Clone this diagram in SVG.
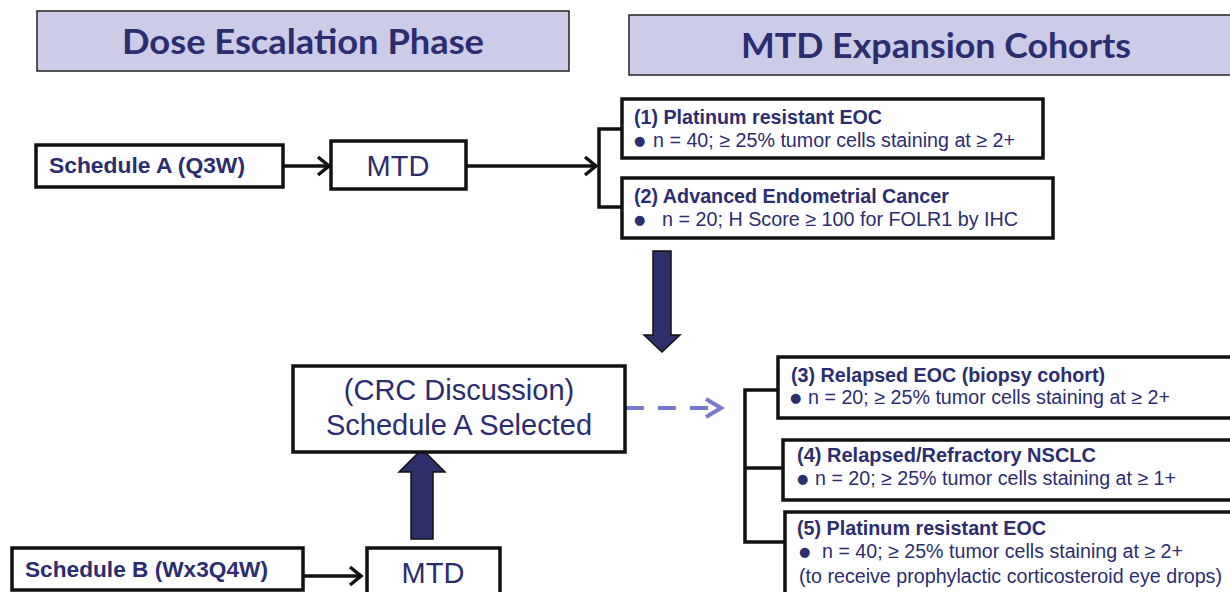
<svg xmlns="http://www.w3.org/2000/svg" width="1230" height="592" viewBox="0 0 1230 592">
<defs>
<style>
.hdr{fill:#ccccE8;stroke:#222;stroke-width:1.5}
.htxt{font-family:Lato,"Open Sans",sans-serif;font-weight:700;font-size:34px;fill:#2b2d6e;text-anchor:middle}
.box{fill:#fff;stroke:#111;stroke-width:3.5}
.b{font-family:"Liberation Sans",Arial,sans-serif;font-weight:700;fill:#2b2d6e}
.r{font-family:"Liberation Sans",Arial,sans-serif;fill:#2b2d6e}
.big{font-size:29px;text-anchor:middle}
.t{font-size:19.5px}
.dot{font-family:"DejaVu Sans",sans-serif;font-size:13px}
.ln{fill:none;stroke:#111;stroke-width:3.5}
.fat{fill:#2e2e6b;stroke:#111;stroke-width:1.5}
</style>
<marker id="chev" markerUnits="userSpaceOnUse" markerWidth="18" markerHeight="22" refX="13" refY="11" orient="auto">
<path d="M2,2 L13,11 L2,20" fill="none" stroke="#111" stroke-width="3.5"/>
</marker>
</defs>

<g id="hdr-dose">
<rect class="hdr" x="37" y="11" width="532" height="60"/>
<text class="htxt" x="303" y="54" textLength="362" lengthAdjust="spacingAndGlyphs">Dose Escalation Phase</text>
</g>
<g id="hdr-mtd">
<rect class="hdr" x="629" y="15" width="612" height="60"/>
<text class="htxt" x="936" y="58" textLength="390" lengthAdjust="spacingAndGlyphs">MTD Expansion Cohorts</text>
</g>

<g id="connectors">
<line class="ln" x1="283" y1="166" x2="329" y2="166" marker-end="url(#chev)"/>
<line class="ln" x1="466" y1="166" x2="596" y2="166" marker-end="url(#chev)"/>
<polyline class="ln" points="622,129 599,129 599,207 622,207"/>
<line class="ln" x1="303" y1="576" x2="361" y2="576" marker-end="url(#chev)"/>
<polyline class="ln" points="778,390 745,390 745,542 785,542"/>
<line class="ln" x1="745" y1="468" x2="783" y2="468"/>
<polygon class="fat" points="653,251 671,251 671,335 680,335 662,352 644,335 653,335"/>
<polygon class="fat" points="411,539 433,539 433,472 445,472 422,449 399,472 411,472"/>
<line x1="626" y1="408" x2="718" y2="408" stroke="#7878cc" stroke-width="4" stroke-dasharray="18 14"/>
<polyline points="706,399 721,408 706,417" fill="none" stroke="#7878cc" stroke-width="4"/>
</g>

<g id="schedA">
<rect class="box" x="36" y="145" width="247" height="42"/>
<text class="b" x="49" y="173" font-size="22.5" textLength="196" lengthAdjust="spacingAndGlyphs">Schedule A (Q3W)</text>
</g>
<g id="mtdA">
<rect class="box" x="331" y="141" width="135" height="48"/>
<text class="r big" x="398" y="176">MTD</text>
</g>

<g id="cohort1">
<rect class="box" x="622" y="99" width="421" height="59"/>
<text class="b t" x="634" y="124" textLength="248" lengthAdjust="spacingAndGlyphs">(1) Platinum resistant EOC</text>
<text class="r t" x="634" y="147"><tspan class="dot" dy="-2">●</tspan><tspan x="653" dy="2" textLength="362" lengthAdjust="spacingAndGlyphs">n = 40; ≥ 25% tumor cells staining at ≥ 2+</tspan></text>
</g>
<g id="cohort2">
<rect class="box" x="622" y="178" width="431" height="60"/>
<text class="b t" x="634" y="203" textLength="315" lengthAdjust="spacingAndGlyphs">(2) Advanced Endometrial Cancer</text>
<text class="r t" x="634" y="226"><tspan class="dot" dy="-2">●</tspan><tspan x="662" dy="2" textLength="356" lengthAdjust="spacingAndGlyphs">n = 20; H Score ≥ 100 for FOLR1 by IHC</tspan></text>
</g>

<g id="crc">
<rect class="box" x="293" y="366" width="332" height="86"/>
<text class="r big" x="459" y="400">(CRC Discussion)</text>
<text class="r big" x="459" y="435">Schedule A Selected</text>
</g>

<g id="cohort3">
<rect class="box" x="778" y="357" width="470" height="61"/>
<text class="b t" x="791" y="382" textLength="314" lengthAdjust="spacingAndGlyphs">(3) Relapsed EOC (biopsy cohort)</text>
<text class="r t" x="790" y="404"><tspan class="dot" dy="-2">●</tspan><tspan x="808" dy="2" textLength="362" lengthAdjust="spacingAndGlyphs">n = 20; ≥ 25% tumor cells staining at ≥ 2+</tspan></text>
</g>
<g id="cohort4">
<rect class="box" x="783" y="440" width="470" height="60"/>
<text class="b t" x="797" y="462" textLength="299" lengthAdjust="spacingAndGlyphs">(4)  Relapsed/Refractory NSCLC</text>
<text class="r t" x="797" y="485"><tspan class="dot" dy="-2">●</tspan><tspan x="815" dy="2" textLength="361" lengthAdjust="spacingAndGlyphs">n = 20; ≥ 25% tumor cells staining at ≥ 1+</tspan></text>
</g>
<g id="cohort5">
<rect class="box" x="785" y="512" width="470" height="100"/>
<text class="b t" x="797" y="535" textLength="249" lengthAdjust="spacingAndGlyphs">(5) Platinum resistant EOC</text>
<text class="r t" x="799" y="558"><tspan class="dot" dy="-2">●</tspan><tspan x="822" dy="2" textLength="361" lengthAdjust="spacingAndGlyphs">n = 40; ≥ 25% tumor cells staining at ≥ 2+</tspan></text>
<text class="r t" x="799" y="583" textLength="423" lengthAdjust="spacingAndGlyphs">(to receive prophylactic corticosteroid eye drops)</text>
</g>

<g id="schedB">
<rect class="box" x="12" y="548" width="291" height="42"/>
<text class="b" x="25" y="577" font-size="22.5" textLength="243" lengthAdjust="spacingAndGlyphs">Schedule B (Wx3Q4W)</text>
</g>
<g id="mtdB">
<rect class="box" x="367" y="548" width="133" height="60"/>
<text class="r big" x="433" y="583">MTD</text>
</g>
</svg>
